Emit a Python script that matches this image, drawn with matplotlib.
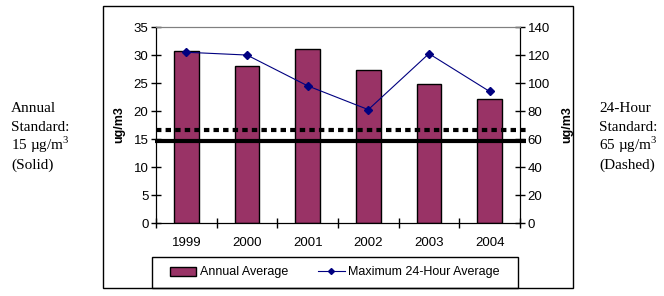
import matplotlib
matplotlib.use("Agg")
from matplotlib import pyplot as plt
from matplotlib.patches import Rectangle, Patch
from matplotlib.lines import Line2D
import numpy as np

years = ["1999", "2000", "2001", "2002", "2003", "2004"]
annual_avg = [30.8, 28.1, 31.0, 27.4, 24.8, 22.1]
max_24hr = [122, 120, 98, 81, 121, 94]
annual_std = 14.7      # left axis units (solid)
daily_std = 66.7       # right axis units (dashed)
left_note = ["Annual", "Standard:", "15 µg/m$^3$", "(Solid)"]
right_note = ["24-Hour", "Standard:", "65 µg/m$^3$", "(Dashed)"]

sans = "Liberation Sans"
serif = "Liberation Serif"

fig = plt.figure(figsize=(6.64, 2.96), dpi=100)
ax1 = fig.add_axes([0.235, 0.2466, 0.548, 0.662])
ax2 = ax1.twinx()

x = np.arange(len(years))
ax1.bar(x, annual_avg, width=0.41, color="#993366", edgecolor="black",
        linewidth=1, zorder=2)
ax2.plot(x, max_24hr, color="#000080", linewidth=0.8, marker="D",
         markersize=4, zorder=3)

# standard lines
ax1.plot([-0.52, 5.6], [annual_std, annual_std], color="black",
         linewidth=3, clip_on=False, zorder=4, solid_capstyle="butt")
ax2.plot([-0.5, 5.65], [daily_std, daily_std], color="black",
         linewidth=3, linestyle=(0, (1.3, 1.0)), clip_on=False, zorder=4,
         dash_capstyle="butt")

ax1.set_xlim(-0.5, 5.5)
ax1.set_ylim(0, 35)
ax2.set_ylim(0, 140)
ax1.set_yticks(range(0, 36, 5))
ax2.set_yticks(range(0, 141, 20))
ax1.set_xticks(x)
ax1.set_xticklabels(years, fontfamily=sans, fontsize=9.5)
ax1.set_xticks(np.arange(-0.5, 6, 1), minor=True)
ax1.tick_params(axis="x", which="major", length=0, pad=10)
ax1.tick_params(axis="x", which="minor", direction="inout", length=7,
                width=1)
ax1.tick_params(axis="y", direction="inout", length=7, width=1,
                labelsize=9.5, pad=2)
ax2.tick_params(axis="y", direction="inout", length=7, width=1,
                labelsize=9.5, pad=2)
for lab in ax1.get_yticklabels() + ax2.get_yticklabels():
    lab.set_fontfamily(sans)

for a in (ax1, ax2):
    a.spines["top"].set_color("gray")
    a.spines["left"].set_color("black")
    a.spines["right"].set_color("black")
    a.spines["bottom"].set_color("black")

ax1.set_ylabel("ug/m3", fontfamily=sans, fontweight="bold", fontsize=9,
               labelpad=6)
ax2.set_ylabel("ug/m3", fontfamily=sans, fontweight="bold", fontsize=9,
               rotation=90, labelpad=8)

# outer chart frame and legend frame
fig.patches.append(Rectangle((103 / 664, 8 / 296), 470 / 664, 282 / 296,
                             transform=fig.transFigure, fill=False,
                             edgecolor="black", linewidth=1))
fig.patches.append(Rectangle((152 / 664, 8 / 296), 366 / 664, 31 / 296,
                             transform=fig.transFigure, fill=False,
                             edgecolor="black", linewidth=1))

handles = [Patch(facecolor="#993366", edgecolor="black", linewidth=1),
           Line2D([], [], color="#000080", linewidth=0.8, marker="D",
                  markersize=3)]
fig.legend(handles, ["Annual Average", "Maximum 24-Hour Average"],
           loc="center", bbox_to_anchor=(335 / 664, 23.5 / 296), ncol=2,
           frameon=False, prop={"family": sans, "size": 9},
           handlelength=2.1, handletextpad=0.3, columnspacing=2.4)

plt.rcParams["mathtext.fontset"] = "custom"
plt.rcParams["mathtext.rm"] = serif
baselines = [112, 131, 150, 169]
for i in range(4):
    fig.text(11 / 664, 1 - baselines[i] / 296, left_note[i], family=serif,
             fontsize=11, va="baseline", ha="left")
    fig.text(599 / 664, 1 - baselines[i] / 296, right_note[i], family=serif,
             fontsize=11, va="baseline", ha="left")

fig.savefig("out.png", dpi=100)
